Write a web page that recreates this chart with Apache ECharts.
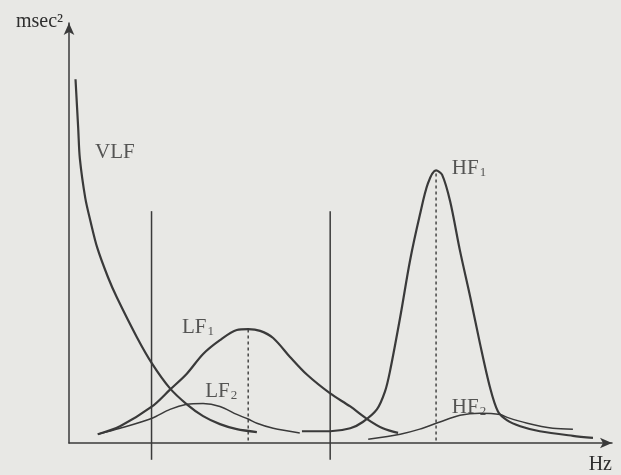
<!DOCTYPE html>
<html>
<head>
<meta charset="utf-8">
<script src="https://cdn.jsdelivr.net/npm/echarts@6/dist/echarts.min.js"></script>
<style>
  html, body { margin: 0; padding: 0; background: #e8e8e5; }
  #chart { width: 621px; height: 475px; }
</style>
</head>
<body>
<div id="chart"></div>
<script>
// spectral components, [frequency, power] in arbitrary units
const vlf = [[1.2, 86.6], [1.7, 74.8], [2.0, 67.7], [3.0, 58.3], [3.9, 53.1], [5.2, 46.5],
  [7.2, 39.4], [8.8, 34.7], [12.5, 25.2], [15.3, 18.9], [18.6, 13.0], [21.7, 9.2],
  [24.7, 6.4], [27.8, 4.5], [30.9, 3.3], [34.6, 2.6]];
const lf1 = [[5.3, 2.1], [9.4, 4.0], [15.3, 8.7], [18.6, 12.7], [21.7, 16.5], [24.7, 21.2],
  [27.8, 24.5], [30.9, 26.9], [33.0, 27.1], [35.2, 26.7], [37.6, 25.0], [40.7, 20.5],
  [43.8, 16.3], [48.1, 11.8], [51.8, 8.7], [54.9, 5.7], [57.8, 3.5], [60.6, 2.4]];
const lf2 = [[5.3, 2.1], [9.4, 3.5], [15.3, 5.9], [18.6, 8.0], [21.7, 9.2], [24.7, 9.4],
  [27.8, 8.7], [30.9, 6.8], [33.0, 5.7], [34.6, 4.7], [37.6, 3.5], [42.5, 2.4]];
const hf1 = [[42.9, 2.8], [48.1, 2.8], [51.8, 3.5], [54.1, 5.0], [56.7, 8.0], [58.2, 12.3],
  [59.1, 17.0], [61.0, 30.0], [62.8, 43.4], [64.6, 54.2], [66.1, 61.8], [67.6, 64.9],
  [68.7, 63.9], [70.2, 57.5], [72.0, 45.8], [73.9, 34.7], [75.7, 23.6], [77.5, 13.4],
  [79.0, 7.5], [80.7, 5.4], [83.1, 4.0], [86.7, 2.8], [92.8, 1.7], [96.5, 1.2]];
const hf2 = [[55.1, 0.9], [61.0, 2.1], [64.6, 3.3], [68.3, 5.0], [72.0, 6.6], [75.7, 7.1],
  [79.4, 6.8], [80.7, 6.1], [84.4, 4.7], [89.1, 3.5], [92.8, 3.3]];

// band boundaries (vertical lines) and dotted peak markers
const bandEdges = [15.2, 48.1];
const bandEdgeRange = [-4.0, 55.2];
const peaks = [[33.0, 27.1], [67.6, 64.9]];

// curve names: main text, subscript, anchor [x, y]
const curveNames = ['VLF', 'LF', 'LF', 'HF', 'HF'];
const curveSubs = ['', '1', '2', '1', '2'];
const curveNamePos = [[4.8, 69.1], [20.8, 27.4], [25.1, 12.3], [70.5, 65.3], [70.5, 8.5]];

const ink = '#3a3a3a';
const font = 'Liberation Serif';

const chart = echarts.init(document.getElementById('chart'), null, { renderer: 'canvas' });

const curve = (data, width) => ({
  type: 'line',
  data: data,
  smooth: 0.3,
  symbol: 'none',
  lineStyle: { color: ink, width: width },
  silent: true,
});

const series = [
  curve(vlf, 2.2),
  curve(lf1, 2.2),
  curve(lf2, 1.5),
  curve(hf1, 2.2),
  curve(hf2, 1.5),
];

bandEdges.forEach((x) => {
  series.push({
    type: 'line',
    data: [[x, bandEdgeRange[0]], [x, bandEdgeRange[1]]],
    symbol: 'none',
    clip: false,
    lineStyle: { color: ink, width: 1.5 },
    silent: true,
  });
});

peaks.forEach((p) => {
  series.push({
    type: 'line',
    data: [[p[0], 0.6], [p[0], p[1]]],
    symbol: 'none',
    lineStyle: { color: ink, width: 1.4, type: [3, 3] },
    silent: true,
  });
});

series.push({
  type: 'scatter',
  symbolSize: 0,
  silent: true,
  data: curveNamePos.map((p, i) => ({ value: p, name: curveNames[i], sub: curveSubs[i] })),
  label: {
    show: true,
    position: 'right',
    distance: 0,
    formatter: (p) => `{m|${p.data.name}}{s|${p.data.sub}}`,
    rich: {
      m: { fontFamily: font, fontSize: 21, color: '#2e2e2e' },
      s: { fontFamily: font, fontSize: 13, color: '#2e2e2e', verticalAlign: 'bottom', padding: [8, 0, 0, 1] },
    },
  },
});

chart.setOption({
  animation: false,
  backgroundColor: '#e8e8e5',
  grid: { left: 69, right: 9, top: 23, bottom: 28 },
  xAxis: {
    type: 'value',
    min: 0,
    max: 100,
    name: 'Hz',
    nameLocation: 'end',
    nameGap: 0,
    nameTextStyle: { fontFamily: font, fontSize: 20, color: '#2e2e2e', align: 'right', verticalAlign: 'top', padding: [12, 0, 0, 0] },
    axisLine: { lineStyle: { color: ink, width: 1.5 }, symbol: ['none', 'arrow'], symbolSize: [8, 12] },
    axisTick: { show: false },
    axisLabel: { show: false },
    splitLine: { show: false },
  },
  yAxis: {
    type: 'value',
    min: 0,
    max: 100,
    name: 'msec²',
    nameLocation: 'end',
    nameGap: -9,
    nameTextStyle: { fontFamily: font, fontSize: 20, color: '#2e2e2e', align: 'right', verticalAlign: 'bottom', padding: [0, 6, 0, 0] },
    axisLine: { lineStyle: { color: ink, width: 1.5 }, symbol: ['none', 'arrow'], symbolSize: [8, 12] },
    axisTick: { show: false },
    axisLabel: { show: false },
    splitLine: { show: false },
  },
  series: series,
});
</script>
</body>
</html>
